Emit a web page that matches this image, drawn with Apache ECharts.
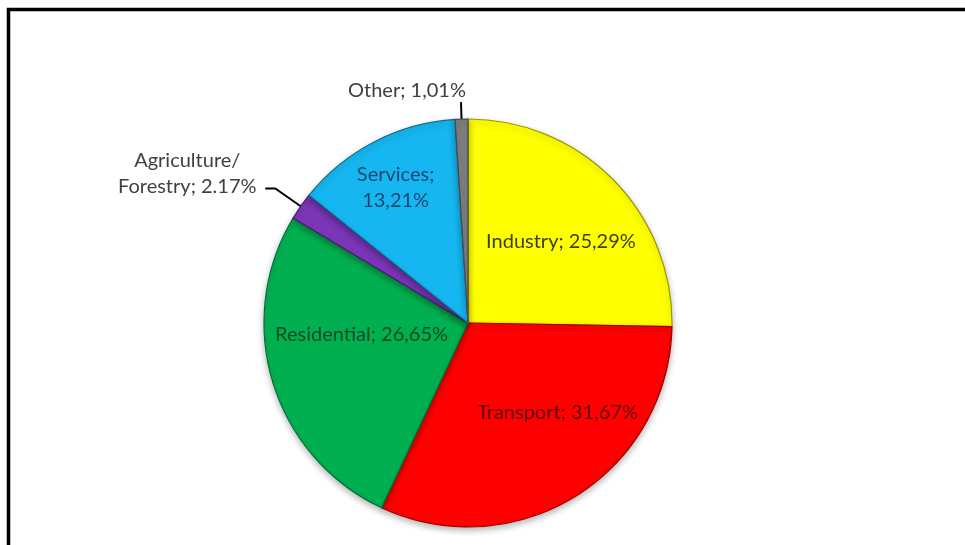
<!DOCTYPE html>
<html>
<head>
<meta charset="utf-8">
<title>Final energy consumption by sector</title>
<script src="https://cdn.jsdelivr.net/npm/echarts@6/dist/echarts.min.js"></script>
<style>
  html, body { margin: 0; padding: 0; background: #ffffff; }
  #chart { width: 965px; height: 545px; }
</style>
</head>
<body>
<div id="chart"></div>
<script>
// Sector shares of consumption, in percent
const categories = ['Industry', 'Transport', 'Residential', 'Agriculture/\nForestry', 'Services', 'Other'];
const shares = [25.29, 31.67, 26.65, 2.17, 13.21, 1.01];
// How each label joins name and value, and which decimal mark it prints
const separators = ['; ', '; ', '; ', '; ', ';\n', '; '];
const decimalMarks = [',', ',', ',', '.', ',', ','];

const sliceColors = ['#ffff00', '#ff0000', '#00b050', '#7b36b8', '#16b6f0', '#7f7f7f'];
const edgeColors = ['#9a9a00', '#a00000', '#00703a', '#4a1a78', '#0a6e98', '#4a4a4a'];
const textColors = ['#3d3d14', '#5e0505', '#0c4a22', '#404040', '#1b4776', '#404040'];
const outsideSlices = [3, 5];

// Label nudges relative to the library's default placement (px)
const labelShift = {
  0: { dx: 18, dy: -8 },
  1: { dx: 34, dy: 0 },
  2: { dx: -6, dy: -19 },
  3: { dx: -73, dy: -15, align: 'center' },
  4: { dx: -24, dy: -42 },
  5: { dx: -49, dy: -12, align: 'center' }
};

const chart = echarts.init(document.getElementById('chart'), null, { renderer: 'canvas' });

const pieData = categories.map((name, i) => {
  const outside = outsideSlices.indexOf(i) >= 0;
  return {
    name: name,
    value: shares[i],
    itemStyle: { color: sliceColors[i], borderColor: edgeColors[i] },
    label: {
      position: outside ? 'outside' : 'inside',
      color: textColors[i]
    },
    labelLine: outside
      ? { show: true, length: i === 3 ? 31 : 17, length2: i === 3 ? 10 : 0 }
      : { show: false }
  };
});

chart.setOption({
  animation: false,
  backgroundColor: '#ffffff',
  graphic: [{
    type: 'polyline',
    silent: true,
    shape: { points: [[8.5, 545], [8.5, 9.5], [965, 9.5]] },
    style: { stroke: '#000000', lineWidth: 3.5, fill: null }
  }],
  series: [{
    type: 'pie',
    center: [468, 323],
    radius: [0, 204],
    startAngle: 90,
    clockwise: true,
    avoidLabelOverlap: false,
    data: pieData,
    itemStyle: {
      borderWidth: 1.2,
      shadowBlur: 6,
      shadowOffsetY: 3,
      shadowColor: 'rgba(0,0,0,0.28)'
    },
    label: {
      show: true,
      fontFamily: 'Lato, "Open Sans", sans-serif',
      fontSize: 20,
      lineHeight: 26,
      distanceToLabelLine: 5,
      formatter: p => {
        const i = p.dataIndex;
        return p.name + separators[i] + shares[i].toFixed(2).replace('.', decimalMarks[i]) + '%';
      }
    },
    labelLine: {
      lineStyle: { color: '#000000', width: 2 },
      smooth: false
    },
    labelLayout: params => {
      const s = labelShift[params.dataIndex];
      if (!s) return {};
      const out = { dx: s.dx, dy: s.dy };
      if (s.align) out.align = s.align;
      if (params.labelLinePoints) out.labelLinePoints = params.labelLinePoints;
      return out;
    },
    emphasis: { disabled: true }
  }]
});
</script>
</body>
</html>
